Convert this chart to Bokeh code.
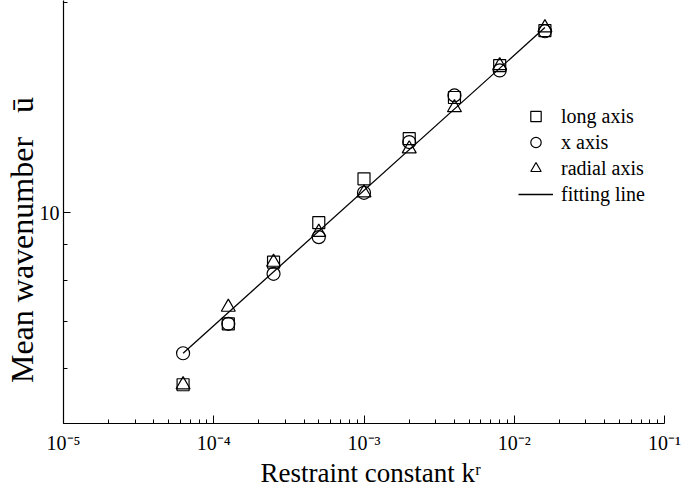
import math
from bokeh.plotting import figure
from bokeh.models import FixedTicker, Legend, LegendItem, ColumnDataSource, Range1d
from bokeh.embed import file_html
from bokeh.resources import INLINE

# ---------------- data ----------------
k_values = [6.25e-5, 1.25e-4, 2.5e-4, 5e-4, 1e-3, 2e-3, 4e-3, 8e-3, 1.6e-2]
long_axis = [5.68, 6.94, 8.50, 9.68, 11.18, 12.76, 14.61, 16.23, 18.21]
x_axis = [6.30, 6.94, 8.18, 9.23, 10.68, 12.62, 14.71, 15.97, 18.17]
radial_axis = [5.68, 7.33, 8.50, 9.38, 10.68, 12.34, 14.13, 16.23, 18.38]
fit_k = [6.25e-5, 1.6e-2]
fit_u = [6.30, 18.39]

x_major = [1e-5, 1e-4, 1e-3, 1e-2, 1e-1]
x_major_labels = ["10⁻⁵", "10⁻⁴", "10⁻³", "10⁻²", "10⁻¹"]
y_major = [10]
y_major_labels = ["10"]
y_minor = [5, 6, 7, 8, 9, 20]
series_labels = ["long axis", "x axis", "radial axis", "fitting line"]
x_title = "Restraint constant\u00a0kʳ"
y_title = "Mean wavenumber\u00a0\u00a0\u00a0ū"

# ---------------- layout ----------------
W, H = 685, 494
BL, BR, BT, BB = 63, 21, 0, 71
FW = W - BL - BR
FH = H - BT - BB
X0, X1 = 1e-5, 1e-1
Y0 = 5.0
DEC_Y = 700.0
Y1 = Y0 * 10 ** (FH / DEC_Y)

SERIF = "Liberation Serif"
NB = "\u00a0"

p = figure(width=W, height=H, x_axis_type="log", y_axis_type="log",
           x_range=Range1d(X0, X1), y_range=Range1d(Y0, Y1),
           output_backend="svg", toolbar_location=None,
           min_border_left=BL, min_border_right=BR,
           min_border_top=BT, min_border_bottom=BB)
p.outline_line_color = None
p.xgrid.visible = False
p.ygrid.visible = False
p.background_fill_color = "white"
p.border_fill_color = "white"

x_minor = [m * 10 ** e for e in range(-5, -1) for m in range(2, 10)]
p.xaxis.ticker = FixedTicker(ticks=x_major, minor_ticks=x_minor)
p.xaxis.major_label_overrides = {t: s for t, s in zip(x_major, x_major_labels)}
p.yaxis.ticker = FixedTicker(ticks=y_major, minor_ticks=y_minor)
p.yaxis.major_label_overrides = {t: s for t, s in zip(y_major, y_major_labels)}

for ax in (p.xaxis[0], p.yaxis[0]):
    ax.axis_line_color = "black"
    ax.axis_line_width = 1.2
    ax.major_tick_out = 0
    ax.minor_tick_out = 0
    ax.major_tick_line_color = "black"
    ax.minor_tick_line_color = "black"
    ax.major_label_text_font = SERIF
    ax.major_label_text_font_size = "20px"
    ax.major_label_text_color = "black"
    ax.axis_label_text_font = SERIF
    ax.axis_label_text_font_style = "normal"
    ax.axis_label_text_color = "black"
p.xaxis.major_tick_in = 8
p.xaxis.minor_tick_in = 4
p.yaxis.major_tick_in = 7
p.yaxis.minor_tick_in = 4
p.xaxis.major_label_standoff = 8
p.yaxis.major_label_standoff = 4

# axis titles; no-break spaces nudge the centred titles to the reference position
p.xaxis.axis_label = NB * 2 + x_title
p.xaxis.axis_label_text_font_size = "27px"
p.xaxis.axis_label_standoff = 1
p.yaxis.axis_label = y_title + NB * 7
p.yaxis.axis_label_text_font_size = "32px"
p.yaxis.axis_label_standoff = -3

src = ColumnDataSource(dict(k=k_values, long=long_axis, xax=x_axis, radial=radial_axis))

r_ln = p.line(fit_k, fit_u, line_color="black", line_width=1.3)
r_sq = p.scatter("k", "long", source=src, marker="square", size=12,
                 fill_alpha=0, line_color="black", line_width=1.2)
r_ci = p.scatter("k", "xax", source=src, marker="circle", size=13,
                 fill_alpha=0, line_color="black", line_width=1.2)
r_tr = p.scatter("k", "radial", source=src, marker="triangle", size=14,
                 fill_alpha=0, line_color="black", line_width=1.2)

legend = Legend(items=[LegendItem(label=series_labels[0], renderers=[r_sq]),
                       LegendItem(label=series_labels[1], renderers=[r_ci]),
                       LegendItem(label=series_labels[2], renderers=[r_tr]),
                       LegendItem(label=series_labels[3], renderers=[r_ln])],
                location=(455, 216))
legend.background_fill_alpha = 0
legend.border_line_color = None
legend.padding = 0
legend.margin = 0
legend.spacing = 0
legend.glyph_width = 35
legend.glyph_height = 26
legend.label_height = 26
legend.label_standoff = 8
legend.label_text_font = SERIF
legend.label_text_font_size = "20px"
legend.label_text_color = "black"
p.add_layout(legend)

open("out.html", "w").write(file_html(p, INLINE))
